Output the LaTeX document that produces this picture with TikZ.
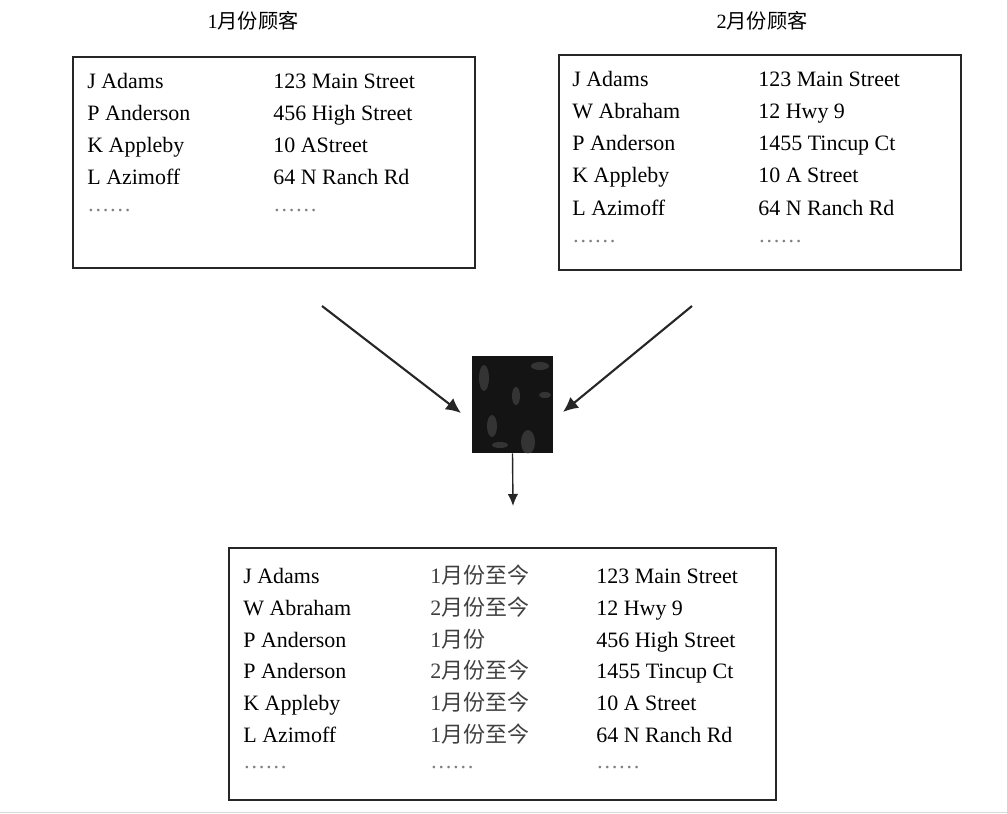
\documentclass[tikz,border=0pt]{standalone}
\usepackage{fontspec}
\setmainfont{Liberation Serif}
\newfontfamily\cjk{Noto Sans CJK SC}
\usetikzlibrary{arrows.meta,positioning}

\begin{document}
\begin{tikzpicture}[
x=0.02cm, y=-0.02cm,
box/.style={
rectangle,
draw=black!85,
line width=1.2pt,
inner sep=0pt
},
entry/.style={anchor=base west, inner sep=0pt, font=\fontsize{12.5}{15}\selectfont},
more/.style={entry, text=black!50},
month/.style={entry, text=black!75},
title/.style={inner sep=0pt, font=\fontsize{11.5}{14}\selectfont},
arrow/.style={-{Latex[length=3mm,width=2.8mm]},line width=1.2pt,black!85},
thinarrow/.style={-{Latex[length=2.4mm,width=2.1mm]},line width=0.8pt,black!85}
]
\useasboundingbox (0,0) rectangle (1007,814);

% titles
\node[title] (jantitle) at (253,21) {1{\cjk 月份顾客}};
\node[title] (febtitle) at (762,21) {2{\cjk 月份顾客}};

% customer lists
\node[box, minimum width=8.04cm, minimum height=4.22cm] (janbox) at (274,162.5) {};
\node[box, minimum width=8.04cm, minimum height=4.30cm] (febbox) at (760,162.5) {};
\node[box, minimum width=10.94cm, minimum height=5.04cm] (allbox) at (502.5,674) {};

\foreach \name/\addr [count=\i] in {J Adams/123 Main Street, P Anderson/456 High Street,
  K Appleby/10 AStreet, L Azimoff/64 N Ranch Rd} {
  \node[entry] (jan-name-\i) at (87,57+32*\i) {\name};
  \node[entry] (jan-addr-\i) at (273,57+32*\i) {\addr};
}
\node[more] (jan-more-1) at (87,212) {……};
\node[more] (jan-more-2) at (273,212) {……};

\foreach \name/\addr [count=\i] in {J Adams/123 Main Street, W Abraham/12 Hwy 9,
  P Anderson/1455 Tincup Ct, K Appleby/10 A Street, L Azimoff/64 N Ranch Rd} {
  \node[entry] (feb-name-\i) at (572,55+32*\i) {\name};
  \node[entry] (feb-addr-\i) at (758,55+32*\i) {\addr};
}
\node[more] (feb-more-1) at (572,242) {……};
\node[more] (feb-more-2) at (758,242) {……};

% merged list
\foreach \name/\since/\addr [count=\i] in {J Adams/1{\cjk 月份至今}/123 Main Street,
  W Abraham/2{\cjk 月份至今}/12 Hwy 9, P Anderson/1{\cjk 月份}/456 High Street,
  P Anderson/2{\cjk 月份至今}/1455 Tincup Ct, K Appleby/1{\cjk 月份至今}/10 A Street,
  L Azimoff/1{\cjk 月份至今}/64 N Ranch Rd} {
  \node[entry] (all-name-\i) at (243,552+31.7*\i) {\name};
  \node[month] (all-since-\i) at (430,552+31.7*\i) {\since};
  \node[entry] (all-addr-\i) at (596,552+31.7*\i) {\addr};
}
\node[more] (all-more-1) at (243,768) {……};
\node[more] (all-more-2) at (430,768) {……};
\node[more] (all-more-3) at (596,768) {……};

% merge step
\node[rectangle, fill=black!92, minimum width=1.62cm, minimum height=1.94cm, inner sep=0pt] (mix) at (512.5,404.5) {};
\begin{scope}
\clip (mix.south west) rectangle (mix.north east);
\foreach \px/\py/\rx/\ry in {484/378/5/13, 540/366/9/4, 492/426/5/11, 528/442/7/12,
  516/396/4/9, 545/395/6/3, 500/445/8/3} {
  \fill[black!50, opacity=0.3] (\px,\py) ellipse [x radius=\rx*0.02cm, y radius=\ry*0.02cm];
}
\end{scope}

\coordinate (janout) at (322,306);
\coordinate (janin) at (461,413);
\coordinate (febout) at (692,306);
\coordinate (febin) at (563,412);
\coordinate (mixout) at (513,506);

\draw[arrow] (janout) -- (janin);
\draw[arrow] (febout) -- (febin);
\draw[thinarrow] (mix.south) -- (mixout);

% page edge
\draw[black!15, line width=0.8pt] (0,812.5) -- (1007,812.5);

\end{tikzpicture}
\end{document}
